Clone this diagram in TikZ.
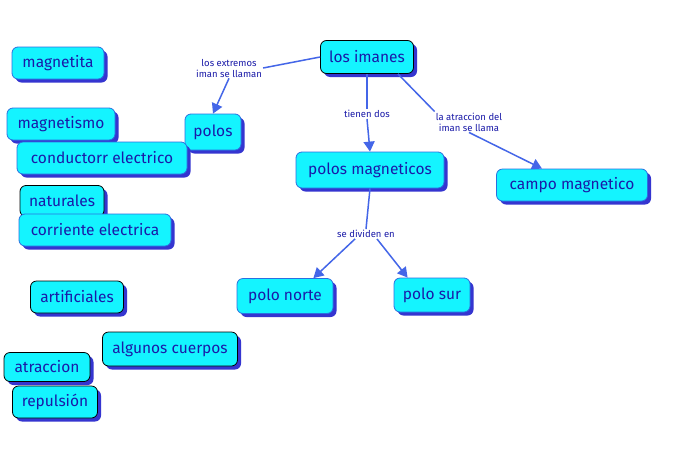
\documentclass[tikz,border=0pt]{standalone}
\usepackage{fontspec}
\setmainfont{Fira Sans}
\usetikzlibrary{shadows,arrows.meta,calc}
\definecolor{boxfill}{HTML}{14F4FF}
\definecolor{boxtext}{HTML}{1A1AA8}
\definecolor{shadowc}{HTML}{3535D0}
\definecolor{linkc}{HTML}{4466E8}
\definecolor{blueedge}{HTML}{2A70E0}
\tikzset{
  concept/.style={draw=blueedge, line width=0.8pt, fill=boxfill, rounded corners=6pt,
    text=boxtext, font=\fontsize{15.5}{17}\selectfont, inner sep=0pt,
    drop shadow={shadow xshift=3.5pt, shadow yshift=-3.5pt, fill=shadowc, opacity=1}},
  blackc/.style={concept, draw=black},
  lbl/.style={text=boxtext, font=\fontsize{9.5}{11}\selectfont, align=center, inner sep=1pt},
  link/.style={draw=linkc, line width=1.5pt},
  arr/.style={link, -{Triangle[length=10pt,width=11pt]}},
}
\begin{document}
\begin{tikzpicture}[x=1pt,y=-1pt]
\useasboundingbox[fill=white] (0,0) rectangle (687,461);
% concepts
\node[blackc, minimum width=93pt, minimum height=33pt] (imanes) at (367,57) {los imanes};
\node[concept, minimum width=148pt, minimum height=36pt] (pmag) at (370,170) {polos magneticos};
\node[concept, minimum width=151pt, minimum height=32pt] (campo) at (572,185) {campo magnetico};
\node[concept, minimum width=96pt, minimum height=35pt] (norte) at (285,296) {polo norte};
\node[concept, minimum width=76pt, minimum height=34pt] (sur) at (432,295) {polo sur};
\node[concept, minimum width=56pt, minimum height=36pt] (polos) at (213,132) {polos};
\node[concept, minimum width=92pt, minimum height=32pt] (magnetita) at (58,63) {magnetita};
\node[concept, minimum width=108pt, minimum height=32pt] (magnetismo) at (61,124) {magnetismo};
\node[concept, minimum width=170pt, minimum height=32pt] (conductor) at (102,158) {conductorr electrico};
\node[blackc, minimum width=84pt, minimum height=31pt] (naturales) at (62,201) {naturales};
\node[concept, minimum width=152pt, minimum height=32pt] (corriente) at (95,230) {corriente electrica};
\node[blackc, minimum width=93pt, minimum height=32pt] (artificiales) at (77,297) {artificiales};
\node[blackc, minimum width=135pt, minimum height=34pt] (cuerpos) at (170,349) {algunos cuerpos};
\node[blackc, minimum width=86pt, minimum height=29pt] (atraccion) at (47,367) {atraccion};
\node[blackc, minimum width=85pt, minimum height=32pt] (repulsion) at (55,402) {repulsión};
% labels
\node[lbl] (l1) at (229,68) {los extremos\\iman se llaman};
\node[lbl] (l2) at (367,114) {tienen dos};
\node[lbl] (l3) at (469,122) {la atraccion del\\iman se llama};
\node[lbl] (l4) at (366,234) {se dividen en};
% anchor points
\coordinate (campoin) at ($(campo.north)+(-30,0)$);
\coordinate (nortein) at ($(norte.north east)+(-20,0)$);
\coordinate (surin) at ($(sur.north west)+(14,0)$);
\coordinate (l4a) at ($(l4.south)+(-11,0)$);
\coordinate (l4b) at ($(l4.south)+(11,0)$);
\coordinate (imanesr) at ($(imanes.south east)+(-16,0)$);
% connectors
\draw[link] (imanes.west) -- (l1.east);
\draw[arr] (l1.south) -- (polos.north);
\draw[link] (imanes.south) -- (l2.north);
\draw[arr] (l2.south) -- (pmag.north);
\draw[link] (imanesr) -- (l3.north west);
\draw[arr] (l3.south) -- (campoin);
\draw[link] (pmag.south) -- (l4.north);
\draw[arr] (l4a) -- (nortein);
\draw[arr] (l4b) -- (surin);
\end{tikzpicture}
\end{document}
